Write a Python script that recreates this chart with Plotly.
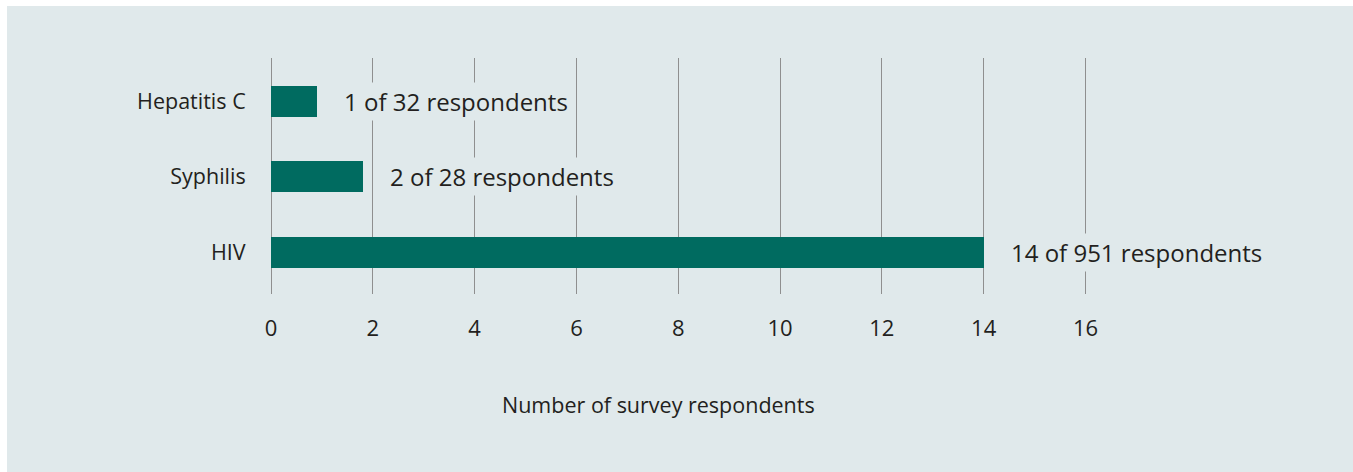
import plotly.graph_objects as go

categories = ["HIV", "Syphilis", "Hepatitis C"]
values = [14.0, 1.8, 0.9]
labels = ["14 of 951 respondents", "2 of 28 respondents", "1 of 32 respondents"]
x_ticks = [0, 2, 4, 6, 8, 10, 12, 14, 16]
x_title = "Number of survey respondents"

PANEL = "#e0e9eb"
BAR = "#006b60"
TEXT = "#231f20"
GRID = "#8f8f8f"
FONT = "Open Sans"

W, H = 1353, 472
L, R, T, B = 271, 266, 58, 178
pw, ph = W - L - R, H - T - B

fig = go.Figure()
fig.add_trace(go.Bar(
    x=values, y=categories, orientation="h",
    marker=dict(color=BAR, line=dict(width=0)),
    width=0.41, hoverinfo="skip",
))

for c, v, t in zip(categories, values, labels):
    fig.add_annotation(x=v, y=c, xref="x", yref="y", text=t, showarrow=False,
                       xanchor="left", yanchor="middle", xshift=24,
                       bgcolor=PANEL, borderpad=2,
                       font=dict(family=FONT, size=24, color=TEXT))

fig.add_annotation(x=(658 - L) / pw, y=(T + ph - 404) / ph, xref="paper", yref="paper",
                   text=x_title, showarrow=False, xanchor="center", yanchor="middle",
                   font=dict(family=FONT, size=21.5, color=TEXT))

fig.add_shape(type="rect", xref="paper", yref="paper", layer="below",
              x0=(7 - L) / pw, x1=(W - L) / pw + 0.01,
              y0=(T + ph - H) / ph - 0.01, y1=(T + ph - 6) / ph,
              fillcolor=PANEL, line=dict(width=0))

fig.update_layout(
    width=W, height=H,
    margin=dict(l=L, r=R, t=T, b=B, pad=0),
    paper_bgcolor="white", plot_bgcolor=PANEL,
    showlegend=False, bargap=0,
    font=dict(family=FONT, color=TEXT),
)
fig.update_xaxes(range=[0, 16.03], tickvals=x_ticks, ticktext=[str(v) for v in x_ticks],
                 showgrid=True, gridcolor=GRID, gridwidth=1,
                 zeroline=True, zerolinecolor=GRID, zerolinewidth=1,
                 showline=False, ticks="outside", ticklen=15, tickcolor="rgba(0,0,0,0)",
                 tickfont=dict(family=FONT, size=22, color=TEXT), fixedrange=True)
fig.update_yaxes(range=[-0.556, 2.57], categoryorder="array", categoryarray=categories,
                 showgrid=False, zeroline=False, showline=False,
                 ticks="outside", ticklen=20, tickcolor="rgba(0,0,0,0)",
                 tickfont=dict(family=FONT, size=21.5, color=TEXT), fixedrange=True)

fig.write_html("out.html", config={"displayModeBar": False})
